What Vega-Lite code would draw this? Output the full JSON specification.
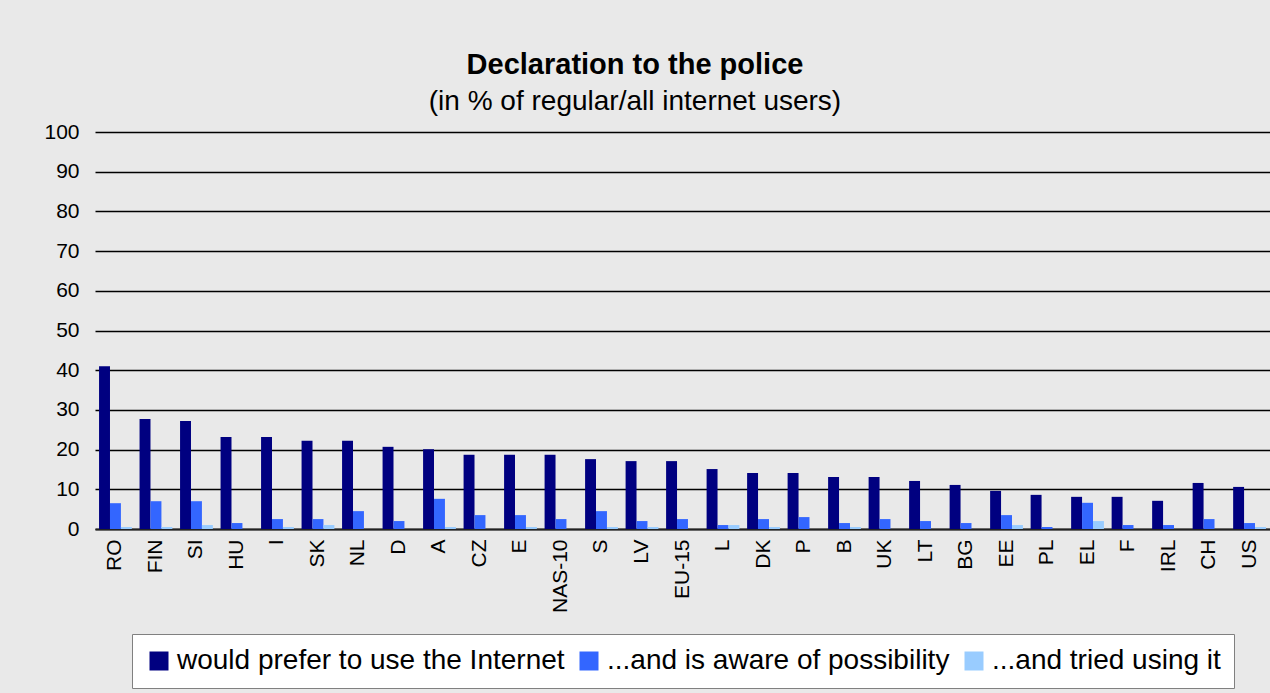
{
  "$schema": "https://vega.github.io/schema/vega-lite/v6.json",
  "width": 1175,
  "height": 397,
  "padding": {"left": 0, "top": 51, "right": 0, "bottom": 5},
  "background": "#e9e9e9",
  "config": {
    "view": {"stroke": null},
    "font": "Liberation Sans",
    "legend": {"layout": {"bottom": {"anchor": "middle"}}}
  },
  "title": {
    "text": "Declaration to the police",
    "subtitle": "(in % of regular/all internet users)",
    "frame": "bounds",
    "anchor": "middle",
    "fontSize": 29,
    "fontWeight": "bold",
    "color": "#000000",
    "subtitleFontSize": 28,
    "subtitleColor": "#000000",
    "subtitlePadding": 8,
    "offset": 5
  },
  "data": {
    "values": [
      {"country": "RO", "series": "would prefer to use the Internet", "value": 41},
      {"country": "RO", "series": "...and is aware of possibility", "value": 6.5},
      {"country": "RO", "series": "...and tried using it", "value": 0.5},
      {"country": "FIN", "series": "would prefer to use the Internet", "value": 27.7},
      {"country": "FIN", "series": "...and is aware of possibility", "value": 7},
      {"country": "FIN", "series": "...and tried using it", "value": 0.5},
      {"country": "SI", "series": "would prefer to use the Internet", "value": 27.2},
      {"country": "SI", "series": "...and is aware of possibility", "value": 7},
      {"country": "SI", "series": "...and tried using it", "value": 1},
      {"country": "HU", "series": "would prefer to use the Internet", "value": 23.2},
      {"country": "HU", "series": "...and is aware of possibility", "value": 1.5},
      {"country": "HU", "series": "...and tried using it", "value": 0},
      {"country": "I", "series": "would prefer to use the Internet", "value": 23.2},
      {"country": "I", "series": "...and is aware of possibility", "value": 2.5},
      {"country": "I", "series": "...and tried using it", "value": 0.5},
      {"country": "SK", "series": "would prefer to use the Internet", "value": 22.2},
      {"country": "SK", "series": "...and is aware of possibility", "value": 2.5},
      {"country": "SK", "series": "...and tried using it", "value": 1},
      {"country": "NL", "series": "would prefer to use the Internet", "value": 22.2},
      {"country": "NL", "series": "...and is aware of possibility", "value": 4.5},
      {"country": "NL", "series": "...and tried using it", "value": 0},
      {"country": "D", "series": "would prefer to use the Internet", "value": 20.7},
      {"country": "D", "series": "...and is aware of possibility", "value": 2},
      {"country": "D", "series": "...and tried using it", "value": 0},
      {"country": "A", "series": "would prefer to use the Internet", "value": 20.1},
      {"country": "A", "series": "...and is aware of possibility", "value": 7.6},
      {"country": "A", "series": "...and tried using it", "value": 0.5},
      {"country": "CZ", "series": "would prefer to use the Internet", "value": 18.7},
      {"country": "CZ", "series": "...and is aware of possibility", "value": 3.5},
      {"country": "CZ", "series": "...and tried using it", "value": 0},
      {"country": "E", "series": "would prefer to use the Internet", "value": 18.7},
      {"country": "E", "series": "...and is aware of possibility", "value": 3.5},
      {"country": "E", "series": "...and tried using it", "value": 0.5},
      {"country": "NAS-10", "series": "would prefer to use the Internet", "value": 18.7},
      {"country": "NAS-10", "series": "...and is aware of possibility", "value": 2.5},
      {"country": "NAS-10", "series": "...and tried using it", "value": 0},
      {"country": "S", "series": "would prefer to use the Internet", "value": 17.6},
      {"country": "S", "series": "...and is aware of possibility", "value": 4.5},
      {"country": "S", "series": "...and tried using it", "value": 0.5},
      {"country": "LV", "series": "would prefer to use the Internet", "value": 17.1},
      {"country": "LV", "series": "...and is aware of possibility", "value": 2},
      {"country": "LV", "series": "...and tried using it", "value": 0.5},
      {"country": "EU-15", "series": "would prefer to use the Internet", "value": 17.1},
      {"country": "EU-15", "series": "...and is aware of possibility", "value": 2.5},
      {"country": "EU-15", "series": "...and tried using it", "value": 0},
      {"country": "L", "series": "would prefer to use the Internet", "value": 15.1},
      {"country": "L", "series": "...and is aware of possibility", "value": 1},
      {"country": "L", "series": "...and tried using it", "value": 1},
      {"country": "DK", "series": "would prefer to use the Internet", "value": 14.1},
      {"country": "DK", "series": "...and is aware of possibility", "value": 2.5},
      {"country": "DK", "series": "...and tried using it", "value": 0.5},
      {"country": "P", "series": "would prefer to use the Internet", "value": 14.1},
      {"country": "P", "series": "...and is aware of possibility", "value": 3},
      {"country": "P", "series": "...and tried using it", "value": 0},
      {"country": "B", "series": "would prefer to use the Internet", "value": 13.1},
      {"country": "B", "series": "...and is aware of possibility", "value": 1.5},
      {"country": "B", "series": "...and tried using it", "value": 0.5},
      {"country": "UK", "series": "would prefer to use the Internet", "value": 13.1},
      {"country": "UK", "series": "...and is aware of possibility", "value": 2.5},
      {"country": "UK", "series": "...and tried using it", "value": 0},
      {"country": "LT", "series": "would prefer to use the Internet", "value": 12.1},
      {"country": "LT", "series": "...and is aware of possibility", "value": 2},
      {"country": "LT", "series": "...and tried using it", "value": 0},
      {"country": "BG", "series": "would prefer to use the Internet", "value": 11.1},
      {"country": "BG", "series": "...and is aware of possibility", "value": 1.5},
      {"country": "BG", "series": "...and tried using it", "value": 0},
      {"country": "EE", "series": "would prefer to use the Internet", "value": 9.6},
      {"country": "EE", "series": "...and is aware of possibility", "value": 3.5},
      {"country": "EE", "series": "...and tried using it", "value": 1},
      {"country": "PL", "series": "would prefer to use the Internet", "value": 8.6},
      {"country": "PL", "series": "...and is aware of possibility", "value": 0.5},
      {"country": "PL", "series": "...and tried using it", "value": 0},
      {"country": "EL", "series": "would prefer to use the Internet", "value": 8.1},
      {"country": "EL", "series": "...and is aware of possibility", "value": 6.6},
      {"country": "EL", "series": "...and tried using it", "value": 2},
      {"country": "F", "series": "would prefer to use the Internet", "value": 8.1},
      {"country": "F", "series": "...and is aware of possibility", "value": 1},
      {"country": "F", "series": "...and tried using it", "value": 0},
      {"country": "IRL", "series": "would prefer to use the Internet", "value": 7.1},
      {"country": "IRL", "series": "...and is aware of possibility", "value": 1},
      {"country": "IRL", "series": "...and tried using it", "value": 0},
      {"country": "CH", "series": "would prefer to use the Internet", "value": 11.6},
      {"country": "CH", "series": "...and is aware of possibility", "value": 2.5},
      {"country": "CH", "series": "...and tried using it", "value": 0},
      {"country": "US", "series": "would prefer to use the Internet", "value": 10.6},
      {"country": "US", "series": "...and is aware of possibility", "value": 1.5},
      {"country": "US", "series": "...and tried using it", "value": 0.5}
    ]
  },
  "mark": {"type": "bar"},
  "encoding": {
    "x": {
      "field": "country",
      "type": "nominal",
      "sort": null,
      "title": null,
      "scale": {"paddingInner": 0.19, "paddingOuter": 0.1},
      "axis": {
        "labelAngle": -90,
        "labelFontSize": 21,
        "labelColor": "#000000",
        "labelPadding": 10,
        "ticks": false,
        "domainColor": "#222222",
        "domainWidth": 2
      }
    },
    "xOffset": {
      "field": "series",
      "type": "nominal",
      "sort": ["would prefer to use the Internet", "...and is aware of possibility", "...and tried using it"],
      "scale": {"paddingInner": 0, "paddingOuter": 0}
    },
    "y": {
      "field": "value",
      "type": "quantitative",
      "title": null,
      "scale": {"domain": [0, 100], "nice": false},
      "axis": {
        "values": [0, 10, 20, 30, 40, 50, 60, 70, 80, 90, 100],
        "labelFontSize": 21,
        "labelColor": "#000000",
        "labelPadding": 16,
        "ticks": false,
        "domain": false,
        "gridColor": "#000000",
        "gridWidth": 1.5,
        "gridOpacity": 1,
        "minExtent": 95,
        "maxExtent": 95
      }
    },
    "color": {
      "field": "series",
      "type": "nominal",
      "title": null,
      "scale": {
        "domain": ["would prefer to use the Internet", "...and is aware of possibility", "...and tried using it"],
        "range": ["#000080", "#3366ff", "#99ccff"]
      },
      "legend": {
        "orient": "bottom",
        "direction": "horizontal",
        "fillColor": "#ffffff",
        "strokeColor": "#808080",
        "padding": 13,
        "offset": 21,
        "labelFontSize": 28,
        "labelColor": "#000000",
        "labelLimit": 600,
        "labelOffset": 4,
        "symbolType": "square",
        "symbolSize": 361,
        "symbolStrokeWidth": 0,
        "symbolOpacity": 1,
        "columnPadding": 10
      }
    }
  }
}
